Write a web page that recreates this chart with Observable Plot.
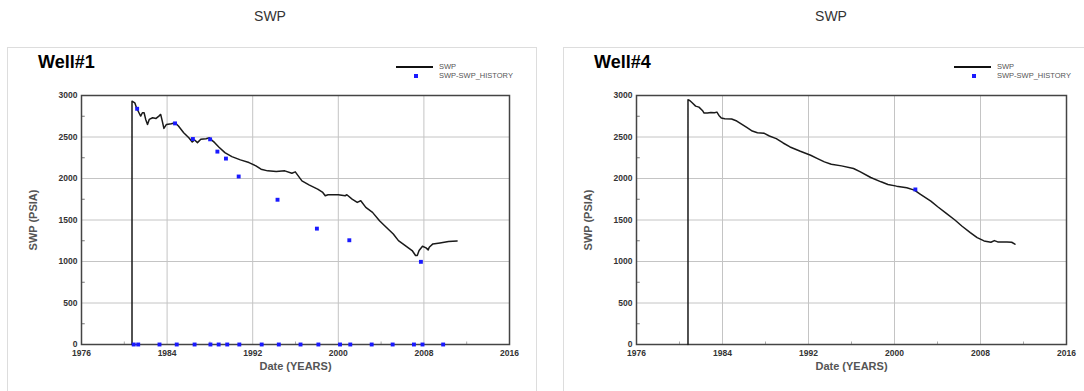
<!DOCTYPE html>
<html>
<head>
<meta charset="utf-8">
<script src="https://cdn.jsdelivr.net/npm/d3@7"></script>
<script src="https://cdn.jsdelivr.net/npm/@observablehq/plot@0.6"></script>
<style>
  html, body { margin: 0; padding: 0; background: #fff; }
  body { position: relative; width: 1084px; height: 391px; overflow: hidden; font-family: "Liberation Sans", Arial, sans-serif; }
  .title { position: absolute; top: 8px; font-size: 14px; color: #333; transform: translateX(-50%); }
  .panel { position: absolute; top: 47px; height: 360px; border: 1.5px solid #ddd; box-sizing: border-box; }
  .well { position: absolute; top: 52px; font-size: 18px; font-weight: bold; color: #000; }
  .chart { position: absolute; top: 47px; }
  .legend { position: absolute; font-size: 7.5px; color: #555; line-height: 9px; }
  .legend .row { position: relative; height: 9px; white-space: nowrap; }
  .legend .ln { position: absolute; top: 4px; height: 1.6px; background: #111; }
  .legend .sq { position: absolute; top: 3px; width: 3.5px; height: 3.5px; background: #1a1aff; }
</style>
</head>
<body>
<script>
// ---- data ----
const xTicks = [1976, 1984, 1992, 2000, 2008, 2016];
const xMinorTicks = [1980, 1988, 1996, 2004, 2012];
const yTicks = [0, 500, 1000, 1500, 2000, 2500, 3000];
const yMinorTicks = [250, 750, 1250, 1750, 2250, 2750];

const well1Years = [1980.72, 1980.72, 1980.98, 1981.14, 1981.37, 1981.53, 1981.69, 1981.85, 1982.0, 1982.17, 1982.33, 1982.65, 1982.97, 1983.23, 1983.4, 1983.55, 1983.7, 1983.94, 1984.4, 1984.75, 1985.06, 1985.55, 1986.03, 1986.35, 1986.57, 1986.84, 1987.15, 1987.64, 1987.96, 1988.2, 1988.45, 1988.83, 1989.4, 1990.05, 1990.85, 1991.65, 1992.3, 1992.78, 1993.4, 1994.2, 1995.0, 1995.66, 1995.98, 1996.6, 1997.26, 1998.07, 1998.55, 1998.78, 1999.04, 2000.0, 2000.64, 2000.8, 2001.29, 2001.77, 2002.1, 2002.57, 2003.2, 2003.85, 2004.65, 2005.14, 2005.62, 2006.26, 2006.9, 2007.22, 2007.38, 2007.55, 2007.87, 2008.2, 2008.4, 2008.5, 2008.84, 2009.5, 2010.3, 2011.1];
const well1Swp = [0, 2932, 2912, 2852, 2792, 2752, 2792, 2792, 2712, 2652, 2712, 2732, 2724, 2752, 2772, 2692, 2604, 2652, 2660, 2672, 2632, 2552, 2492, 2440, 2464, 2432, 2472, 2480, 2492, 2460, 2432, 2380, 2312, 2264, 2224, 2192, 2152, 2112, 2092, 2084, 2092, 2064, 2080, 1972, 1924, 1872, 1832, 1792, 1804, 1804, 1792, 1804, 1752, 1712, 1732, 1652, 1592, 1492, 1392, 1332, 1252, 1192, 1132, 1072, 1072, 1132, 1184, 1164, 1140, 1172, 1212, 1224, 1240, 1248];

const well1HistYears = [1981.2, 1984.74, 1986.41, 1988.02, 1988.7, 1989.5, 1990.69, 1994.32, 1998.0, 2001.03, 2007.72,
  1980.88, 1981.3, 1983.29, 1984.9, 1986.57, 1988.05, 1988.82, 1989.62, 1990.75, 1992.84, 1994.44, 1996.47, 1998.14, 2000.16, 2001.12, 2003.12, 2005.08, 2007.07, 2007.87, 2009.8];
const well1HistSwp = [2840, 2664, 2476, 2472, 2324, 2240, 2024, 1744, 1396, 1256, 996,
  0, 0, 0, 0, 0, 0, 0, 0, 0, 0, 0, 0, 0, 0, 0, 0, 0, 0, 0, 0];

const well4Years = [1980.79, 1980.79, 1980.95, 1981.18, 1981.5, 1981.81, 1982.13, 1982.29, 1982.6, 1982.92, 1983.25, 1983.48, 1983.67, 1983.89, 1984.21, 1984.85, 1985.33, 1985.81, 1986.29, 1986.77, 1987.25, 1987.89, 1988.36, 1989.0, 1989.64, 1990.28, 1991.24, 1992.2, 1992.84, 1993.48, 1994.12, 1995.07, 1996.19, 1996.83, 1997.79, 1998.75, 1999.39, 2000.19, 2001.14, 2001.85, 2002.42, 2003.38, 2004.02, 2004.82, 2005.62, 2006.26, 2007.05, 2007.69, 2008.33, 2008.97, 2009.29, 2009.6, 2010.46, 2010.9, 2011.2];
const well4Swp = [0, 2948, 2940, 2912, 2872, 2860, 2820, 2788, 2788, 2796, 2792, 2800, 2760, 2728, 2720, 2716, 2692, 2652, 2612, 2572, 2552, 2544, 2512, 2480, 2428, 2380, 2328, 2280, 2240, 2200, 2172, 2152, 2120, 2080, 2012, 1960, 1928, 1908, 1888, 1860, 1808, 1728, 1660, 1580, 1500, 1428, 1348, 1288, 1248, 1232, 1252, 1236, 1236, 1232, 1208];

const well4HistYears = [2001.94];
const well4HistSwp = [1868];

const panels = [
  {name: "Well#1", years: well1Years, swp: well1Swp, hYears: well1HistYears, hSwp: well1HistSwp,
   left: 0, width: 540, mL: 81, mR: 31, boxL: 7, boxW: 530, legL: 396},
  {name: "Well#4", years: well4Years, swp: well4Swp, hYears: well4HistYears, hSwp: well4HistSwp,
   left: 545, width: 539, mL: 91, mR: 18, boxL: 563, boxW: 540, legL: 954}
];

function el(tag, cls, parent) { const e = document.createElement(tag); if (cls) e.className = cls; (parent || document.body).appendChild(e); return e; }

for (const p of panels) {
  const t = el("div", "title"); t.textContent = "SWP"; t.style.left = (p.boxL + p.boxW / 2 - 2) + "px";
  const box = el("div", "panel"); box.style.left = p.boxL + "px"; box.style.width = p.boxW + "px";

  const line = p.years.map((x, i) => ({x, y: p.swp[i]}));
  const hist = p.hYears.map((x, i) => ({x, y: p.hSwp[i]}));

  const chart = Plot.plot({
    width: p.width,
    height: 344,
    marginLeft: p.mL,
    marginRight: p.mR,
    marginTop: 48,
    marginBottom: 47,
    style: {fontFamily: "Liberation Sans, Arial, sans-serif", fontSize: "8.5px", color: "#333", background: "transparent", fontWeight: "bold"},
    x: {domain: [1976, 2016], ticks: xTicks, tickFormat: d => String(d), tickSize: 0, tickPadding: 5,
        label: "Date (YEARS)", labelArrow: false, labelAnchor: "center", labelOffset: 25},
    y: {domain: [0, 3000], ticks: yTicks, tickFormat: d => String(d), tickSize: 0, tickPadding: 4,
        label: "SWP (PSIA)", labelArrow: false, labelAnchor: "center", labelOffset: 52},
    marks: [
      Plot.ruleX(xTicks, {stroke: "#c4c4c4", strokeWidth: 1}),
      Plot.ruleY(yTicks, {stroke: "#c4c4c4", strokeWidth: 1}),
      Plot.ruleY(yMinorTicks, {x1: 1976, x2: 1976.35, stroke: "#777"}),
      Plot.ruleX(xMinorTicks, {y1: 0, y2: 30, stroke: "#aaa"}),
      Plot.frame({stroke: "#444", strokeWidth: 1.5}),
      Plot.line(line, {x: "x", y: "y", stroke: "#1a1a1a", strokeWidth: 1.5}),
      Plot.dot(hist, {x: "x", y: "y", symbol: "square", r: 2.2, fill: "#1a1aff", stroke: "none"})
    ]
  });
  chart.classList.add("chart");
  chart.style.left = p.left + "px";
  chart.style.position = "absolute";
  chart.style.top = "47px";
  // strip any arrow glyphs from axis labels and style them
  d3.select(chart).selectAll("text").each(function() {
    const s = this.textContent;
    if (/YEARS|PSIA/.test(s)) {
      this.textContent = s.replace(/[\u2191\u2192\u2193\u2190]/g, "").trim();
      d3.select(this).style("font-size", "11px").style("fill", "#555");
    }
  });
  // nudge the y-axis "0" label up a little so it sits above "1976"
  d3.select(chart).selectAll("[aria-label='y-axis tick label'] text").each(function() {
    if (this.textContent === "0") d3.select(this).attr("dy", "-0.05em");
  });
  document.body.appendChild(chart);

  const w = el("div", "well"); w.textContent = p.name; w.style.left = (p.boxL + 31) + "px";

  const leg = el("div", "legend"); leg.style.left = p.legL + "px"; leg.style.top = "62px";
  const r1 = el("div", "row", leg);
  const ln = el("div", "ln", r1); ln.style.left = "0px"; ln.style.width = "37px";
  const t1 = el("span", null, r1); t1.textContent = "SWP"; t1.style.marginLeft = "43px";
  const r2 = el("div", "row", leg);
  const sq = el("div", "sq", r2); sq.style.left = "18px";
  const t2 = el("span", null, r2); t2.textContent = "SWP-SWP_HISTORY"; t2.style.marginLeft = "43px";
}
</script>
</body>
</html>
